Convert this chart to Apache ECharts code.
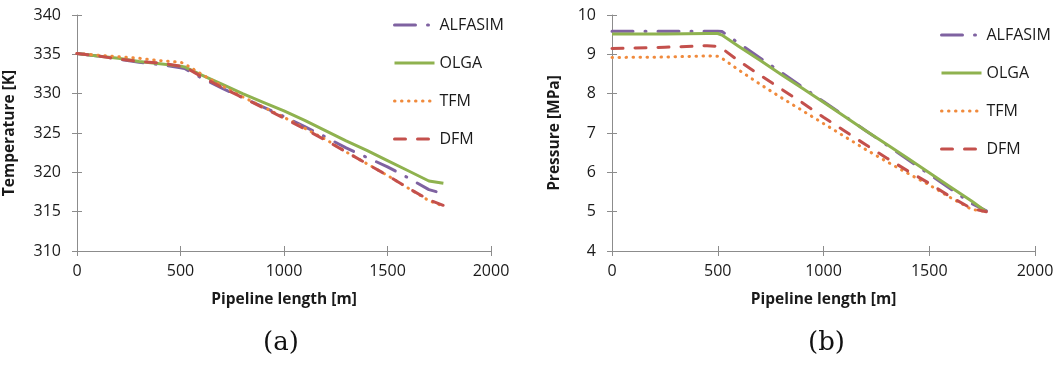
<!DOCTYPE html>
<html>
<head>
<meta charset="utf-8">
<script src="https://cdn.jsdelivr.net/npm/echarts@6/dist/echarts.min.js"></script>
<style>
html,body{margin:0;padding:0;background:#fff;}
#chart{width:1057px;height:367px;}
</style>
</head>
<body>
<div id="chart"></div>
<script>
// ---- data ----
const seriesNames = ['ALFASIM', 'OLGA', 'TFM', 'DFM'];

// (a) Temperature [K] vs pipeline length [m]
const tempX = [0, 100, 200, 300, 400, 500, 520, 600, 700, 800, 900, 1000, 1100, 1200, 1300, 1400, 1500, 1600, 1700, 1770];
const tempALFASIM = [335.1, 334.8, 334.4, 334.0, 333.7, 333.3, 333.2, 332.0, 330.7, 329.5, 328.3, 327.1, 325.8, 324.5, 323.1, 321.9, 320.7, 319.3, 317.8, 317.3];
const tempOLGA    = [335.1, 334.8, 334.5, 334.1, 333.8, 333.5, 333.4, 332.4, 331.2, 330.0, 328.9, 327.8, 326.6, 325.3, 324.0, 322.8, 321.5, 320.2, 318.9, 318.6];
const tempTFM     = [335.1, 334.9, 334.7, 334.5, 334.2, 334.0, 333.8, 332.5, 331.0, 329.6, 328.3, 327.0, 325.6, 324.2, 322.6, 321.1, 319.6, 318.0, 316.4, 315.7];
const tempDFM     = [335.1, 334.8, 334.4, 334.1, 333.9, 333.5, 333.4, 332.2, 330.8, 329.5, 328.2, 326.9, 325.5, 324.1, 322.6, 321.1, 319.6, 318.0, 316.5, 315.8];

// (b) Pressure [MPa] vs pipeline length [m]
const pressX = [0, 250, 450, 500, 520, 600, 700, 800, 900, 1000, 1100, 1200, 1300, 1400, 1500, 1600, 1700, 1770];
const pressALFASIM = [9.59, 9.59, 9.59, 9.59, 9.58, 9.28, 8.91, 8.54, 8.17, 7.80, 7.43, 7.06, 6.69, 6.32, 5.95, 5.58, 5.21, 5.02];
const pressOLGA    = [9.52, 9.52, 9.53, 9.53, 9.49, 9.20, 8.85, 8.49, 8.14, 7.78, 7.42, 7.06, 6.71, 6.35, 5.99, 5.63, 5.27, 5.00];
const pressTFM     = [8.92, 8.93, 8.96, 8.95, 8.90, 8.60, 8.24, 7.90, 7.57, 7.24, 6.91, 6.58, 6.27, 5.97, 5.68, 5.36, 5.06, 5.00];
const pressDFM     = [9.15, 9.18, 9.22, 9.20, 9.15, 8.83, 8.47, 8.12, 7.77, 7.40, 7.05, 6.70, 6.36, 6.03, 5.72, 5.38, 5.08, 5.00];

const tempTicks = {min: 310, max: 340, interval: 5};
const pressTicks = {min: 4, max: 10, interval: 1};
const lengthTicks = {min: 0, max: 2000, interval: 500};

// ---- styles ----
const styles = {
  ALFASIM: {color: '#7F62A1', type: [21, 12, 1, 12], cap: 'round'},
  OLGA:    {color: '#8FB24F', type: 'solid', cap: 'butt'},
  TFM:     {color: '#F08A3C', type: [0.5, 6.5], cap: 'round'},
  DFM:     {color: '#C4504C', type: [11, 12], cap: 'round'}
};

const zip = (xs, ys) => xs.map((x, i) => [x, ys[i]]);

function mkSeries(name, xs, ys, idx) {
  const s = styles[name];
  return {
    name: name, type: 'line', xAxisIndex: idx, yAxisIndex: idx,
    data: zip(xs, ys), showSymbol: false, symbol: 'none', animation: false,
    color: s.color,
    lineStyle: {color: s.color, width: 3, type: s.type, cap: s.cap, join: 'round'}
  };
}

const axisCol = '#8c8c8c';
const labelFont = {fontFamily: 'Open Sans', fontSize: 16, color: '#1a1a1a'};
const nameFont = {fontFamily: 'Open Sans', fontSize: 15.5, fontWeight: 'bold', color: '#1a1a1a'};
const plain = v => String(v);

function xMain(grid) {
  return {
    type: 'value', gridIndex: grid, position: 'bottom', ...lengthTicks,
    name: 'Pipeline length [m]', nameLocation: 'middle', nameGap: 41, nameTextStyle: nameFont,
    axisLine: {show: true, lineStyle: {color: axisCol, width: 1}},
    axisTick: {show: true, length: 5, lineStyle: {color: axisCol}},
    axisLabel: {margin: 12, formatter: plain, ...labelFont},
    splitLine: {show: false}
  };
}
function xInner(grid) {
  return {
    type: 'value', gridIndex: grid, position: 'bottom', ...lengthTicks,
    axisLine: {show: false}, axisTick: {show: true, inside: true, length: 5, lineStyle: {color: axisCol}},
    axisLabel: {show: false}, splitLine: {show: false}
  };
}
function yMain(grid, ticks, name, gap) {
  return {
    type: 'value', gridIndex: grid, position: 'left', ...ticks,
    name: name, nameLocation: 'middle', nameGap: gap, nameTextStyle: nameFont,
    axisLine: {show: true, lineStyle: {color: axisCol, width: 1}},
    axisTick: {show: true, length: 5, lineStyle: {color: axisCol}},
    axisLabel: {margin: 16, formatter: plain, ...labelFont},
    splitLine: {show: false}
  };
}
function yInner(grid, ticks) {
  return {
    type: 'value', gridIndex: grid, position: 'left', ...ticks,
    axisLine: {show: false}, axisTick: {show: true, inside: true, length: 5, lineStyle: {color: axisCol}},
    axisLabel: {show: false}, splitLine: {show: false}
  };
}

const legendCommon = {
  orient: 'vertical', itemWidth: 40, itemHeight: 16, itemGap: 22,
  itemStyle: {opacity: 0, color: 'rgba(0,0,0,0)', borderWidth: 0},
  lineStyle: {width: 3},
  textStyle: {fontFamily: 'Open Sans', fontSize: 16, color: '#1a1a1a'},
  data: seriesNames, selectedMode: false
};

const chart = echarts.init(document.getElementById('chart'), null, {renderer: 'canvas'});
chart.setOption({
  backgroundColor: '#ffffff',
  animation: false,
  grid: [
    {left: 77, top: 15, width: 414, height: 236},
    {left: 612, top: 15, width: 423, height: 236}
  ],
  xAxis: [xMain(0), xMain(1), xInner(0), xInner(1)],
  yAxis: [
    yMain(0, tempTicks, 'Temperature [K]', 59),
    yMain(1, pressTicks, 'Pressure [MPa]', 49),
    yInner(0, tempTicks), yInner(1, pressTicks)
  ],
  legend: [
    {...legendCommon, left: 388, top: 12},
    {...legendCommon, left: 935, top: 22}
  ],
  series: [
    mkSeries('ALFASIM', tempX, tempALFASIM, 0),
    mkSeries('OLGA', tempX, tempOLGA, 0),
    mkSeries('TFM', tempX, tempTFM, 0),
    mkSeries('DFM', tempX, tempDFM, 0),
    mkSeries('ALFASIM', pressX, pressALFASIM, 1),
    mkSeries('OLGA', pressX, pressOLGA, 1),
    mkSeries('TFM', pressX, pressTFM, 1),
    mkSeries('DFM', pressX, pressDFM, 1)
  ],
  graphic: [
    {type: 'text', left: 263, top: 330, style: {text: '(a)', font: '26px "DejaVu Serif"', fill: '#111'}},
    {type: 'text', left: 808, top: 330, style: {text: '(b)', font: '26px "DejaVu Serif"', fill: '#111'}}
  ]
});
</script>
</body>
</html>
